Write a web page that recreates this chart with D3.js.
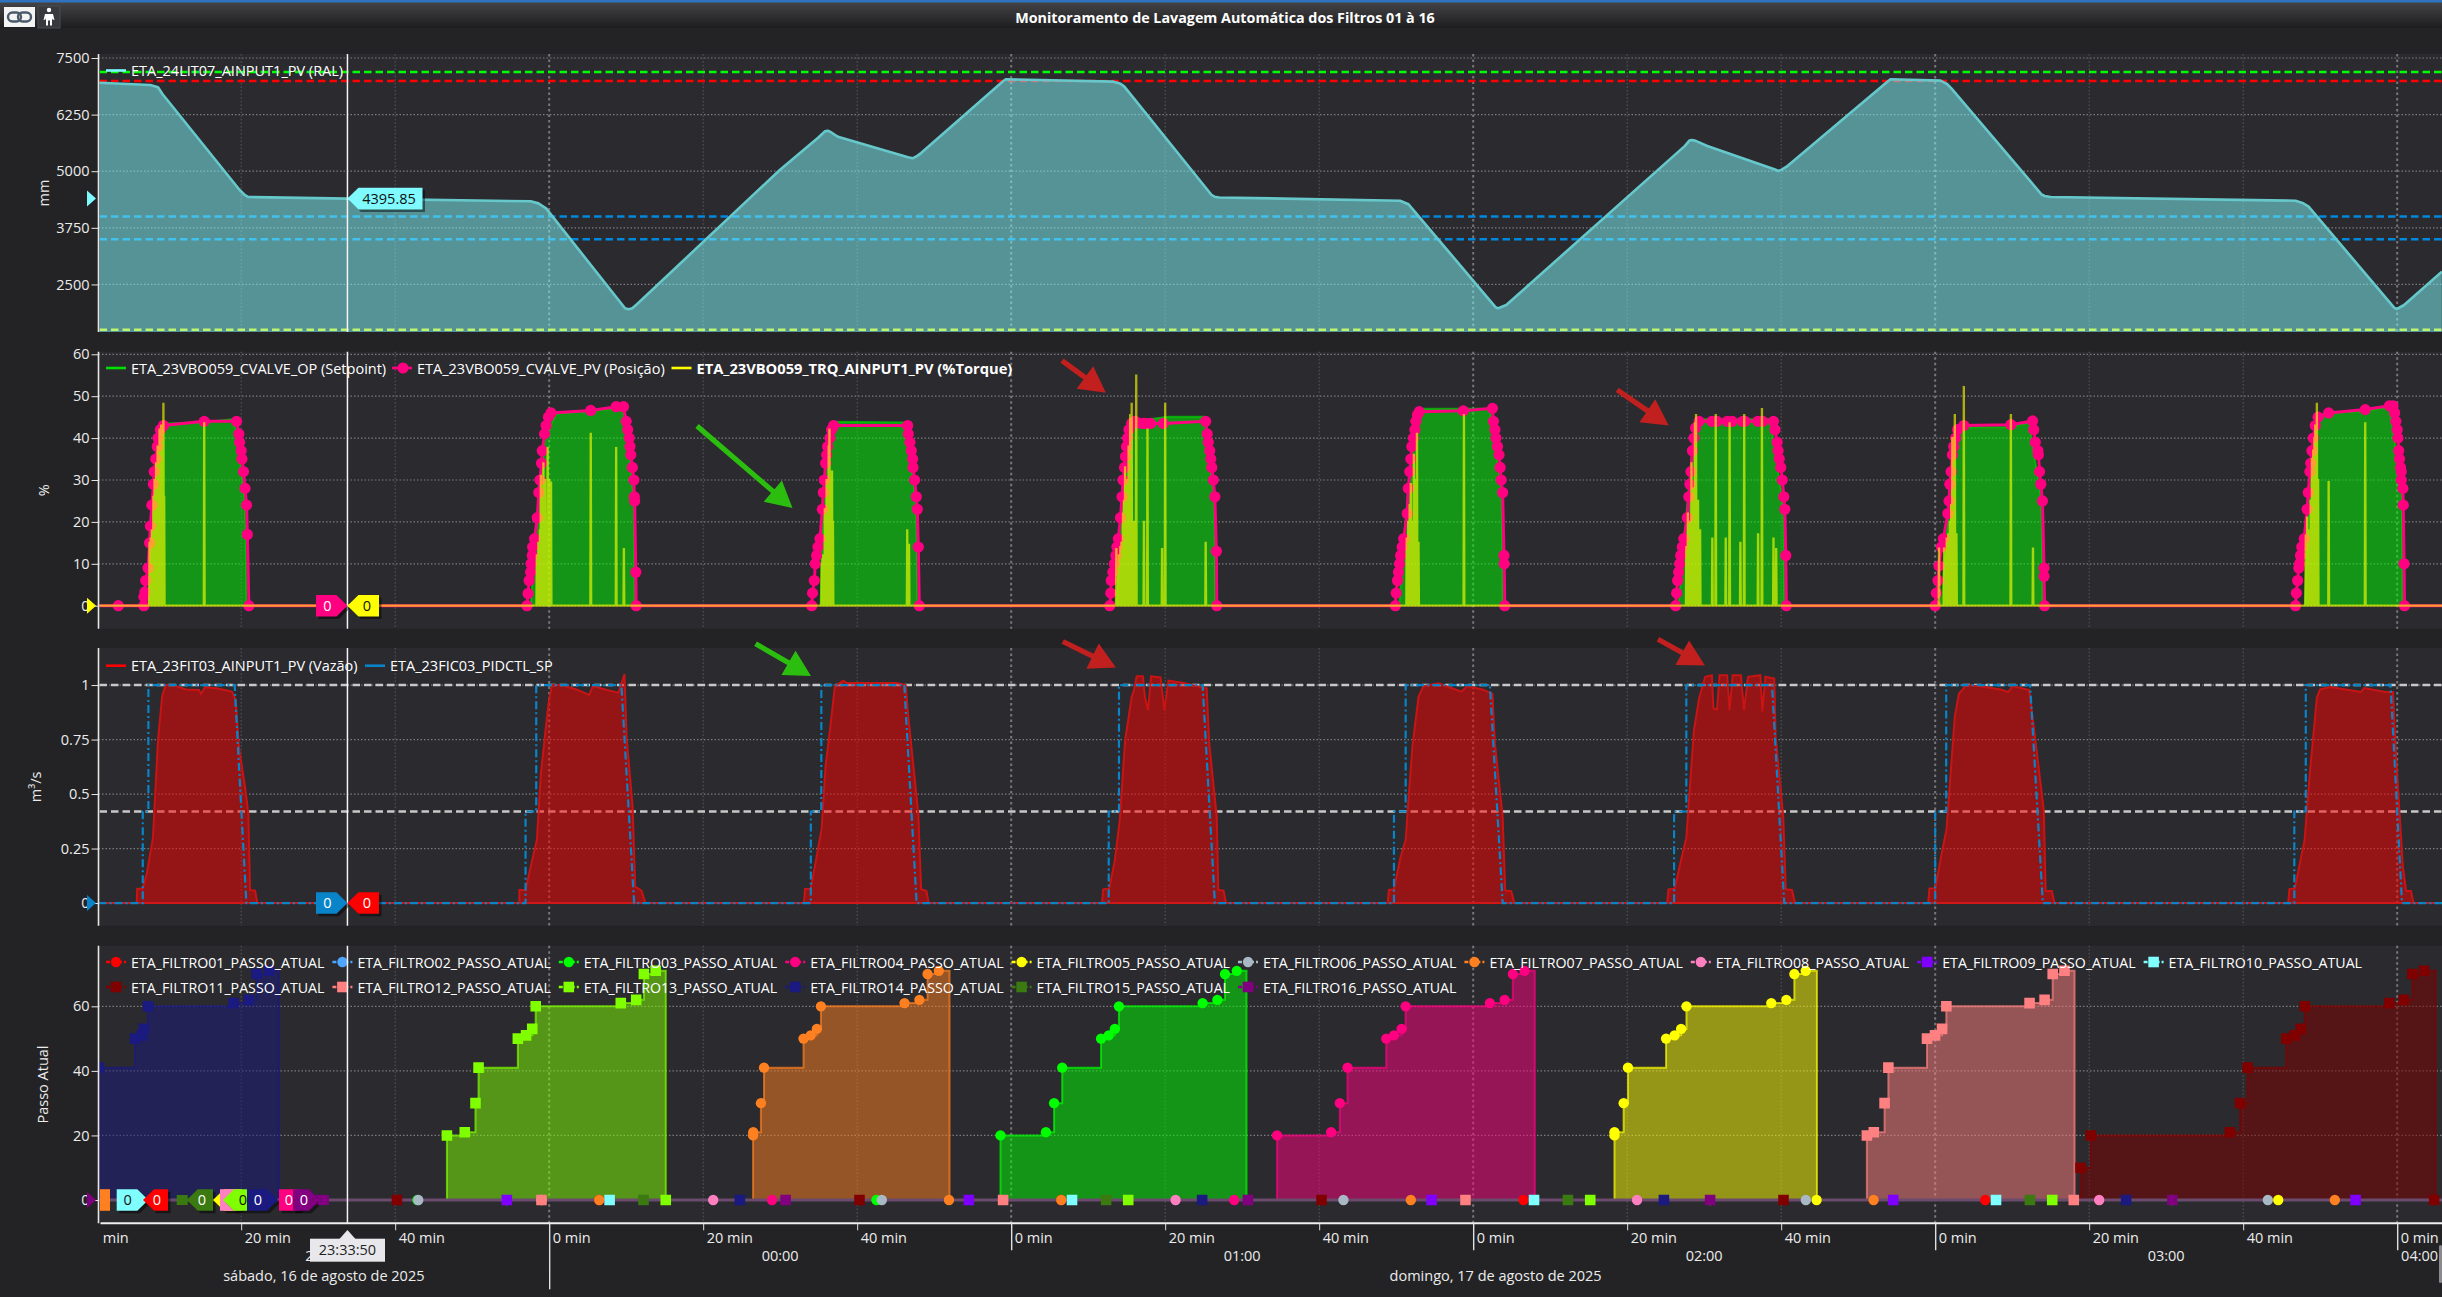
<!DOCTYPE html>
<html><head><meta charset="utf-8">
<script src="https://cdn.jsdelivr.net/npm/d3@7/dist/d3.min.js"></script>
<style>
html,body{margin:0;padding:0;background:#232325;overflow:hidden}
text{font-family:"Open Sans","Noto Sans",sans-serif;fill:#ececec}
</style></head><body><div id="c"></div>
<script>
// ---------- text ----------
const chartTitle="Monitoramento de Lavagem Automática dos Filtros 01 à 16";
const levelUnit="mm", valveUnit="%", flowUnit="m³/s", stepUnit="Passo Atual";
const levelTicks=[7500,6250,5000,3750,2500];
const valveTicks=[60,50,40,30,20,10,0];
const flowTicks=[1,0.75,0.5,0.25,0];
const stepTicks=[60,40,20,0];
const minuteTicks=[-60,-40,-20,0,20,40,60,80,100,120,140,160,180,200,220,240];
const hourLabels=[[-60,"23:00"],[0,"00:00"],[60,"01:00"],[120,"02:00"],[180,"03:00"],[240,"04:00"]];
const dayLabels=[[-1440,0,"sábado, 16 de agosto de 2025"],[0,1440,"domingo, 17 de agosto de 2025"]];
const cursorT=-26.2, cursorLabel="23:33:50", cursorLevel="4395.85";
// ---------- level (minutes since 00:00, mm) ----------
const levelT=[-58.5,-51.8,-50.8,-50.2,-40.2,-39.5,-39.05,-26.2,-2.4,-1.4,-0.4,9.85,10.3,10.8,11.5,29.95,35,35.8,36.2,36.7,37.5,46.6,47.2,47.8,48.3,58.9,59.3,73.3,74.2,74.7,86,86.4,87,110.5,111.6,112.6,122.9,123.2,123.5,124.3,147.5,148.1,148.4,148.9,150.4,159.2,159.6,160,160.7,173.9,174.2,180.7,181.5,182.1,193.8,194.2,195,226.8,227.7,228.5,239.6,239.9,240.2,240.9,245.8];
const levelV=[6955,6905,6853,6700,4585,4470,4430,4395.85,4336,4290,4180,1973,1950,1973,2080,5027,5750,5880,5895,5850,5760,5310,5285,5340,5400,6980,7029,6977,6930,6868,4480,4438,4420,4349,4270,4070,2000,1973,1990,2046,5560,5680,5690,5670,5557,5040,5005,5030,5100,6990,7029,7000,6930,6830,4490,4453,4430,4349,4300,4217,1990,1958,1980,2046,2782];
const levelLimits=[[7190,"#00ff00"],[6990,"#ff0000"],[4000,"#0088dd"],[3500,"#0088dd"]];
const levelLowLimit=1500;
// ---------- valve position PV per cycle ----------
const pv1T=[-58.5,-55.95,-52.64,-52.64,-52.5,-52.4,-52.1,-51.9,-51.8,-51.6,-51.4,-51.3,-51.1,-50.9,-50.8,-50.5,-50.1,-44.8,-40.6,-40.3,-40.2,-40,-39.9,-39.7,-39.5,-39.3,-39.2,-39];
const pv1V=[0,0,0,2.1,3.3,6,9,15,19,24,29,32,35,38,40,42,43,44,44,41,39,37,35,32,28,24,17,0];
const pv2T=[-2.88,-2.74,-2.6,-2.41,-2.35,-2.2,-2.15,-1.9,-1.55,-1.35,-1.2,-1,-0.9,-0.6,-0.4,-0.1,0.24,5.4,8.7,9.65,10,10.2,10.4,10.5,10.6,10.8,11,11.05,11.1,11.25,11.3];
const pv2V=[0,2.9,6,8,10,12,14,16,21,27,30,34,37,41,43,45,46,46.6,47.5,47.5,44,42,40,38,36,33,30,26,25,8,0];
const pv3T=[34.1,34.2,34.43,34.56,34.73,34.9,35.17,35.47,35.6,35.73,35.9,36.03,36.16,36.46,36.68,36.94,46.55,46.64,46.85,47.03,47.2,47.25,47.46,47.68,47.81,47.94,48.07];
const pv3V=[0,3,6,10,12,14,16,23,27,30,34,36,38,40,42,43,43,41,39,37,35,33,30,26,23,14,0];
const pv4T=[72.8,72.93,73,73.2,73.4,73.6,73.73,73.92,74.19,74.39,74.52,74.72,74.85,74.98,75.12,75.3,75.65,76.1,76.5,77.1,77.44,78.1,79.75,85.26,85.46,85.59,85.79,85.92,86.05,86.25,86.45,86.65,86.7];
const pv4V=[0,3,6,8,10,12,14,16,21,26,30,33,35.6,38,40,42,43.5,44,43.6,43.5,43.5,43.5,43.5,44,41,39,37,35,33,30,26,13,0];
const pv5T=[109.9,110,110.17,110.3,110.44,110.57,110.77,110.97,111.43,111.57,111.76,111.9,112.03,112.23,112.43,112.56,112.76,113,118.72,122.5,122.63,122.83,122.96,123.16,123.36,123.5,123.63,123.83,124,124.03,124.1];
const pv5V=[0,3,6,8,10,12,14,16,22,28,32,35,38,40,42,44,45.5,46.3,46.5,47.1,44,42,40,38,36,33,30,27,12,10,0];
const pv6T=[146.3,146.42,146.55,146.68,146.82,146.95,147.15,147.35,147.81,148,148.15,148.28,148.47,148.67,148.87,149.34,151,151.66,153,153.65,155,155.3,156.96,157.6,159,159.2,159.47,159.6,159.75,159.94,160.14,160.34,160.47,160.6,160.67];
const pv6V=[0,3,6,8,10,12,14,16,21,26,29,32,37,40,42.4,44,44,44,44,44,44,44,44,44,44,42,39,37,35,33,30,26,23,12,0];
const pv7T=[180,180.15,180.37,180.5,180.8,181.06,181.64,181.8,181.9,182.07,182.23,182.4,182.65,182.92,183.72,189.83,192.65,192.8,193,193.34,193.4,193.56,193.72,193.93,194.14,194.14,194.2];
const pv7V=[0,3,6,9.5,14,16,22,25,29,32,36,38,40,42,43,43.2,44.1,42,39,37,36,32,29,25,9,7,0];
const pv8T=[226.8,226.9,227.07,227.22,227.33,227.44,227.6,227.92,228.3,228.45,228.66,228.77,228.93,229.1,229.36,229.73,231.1,235.85,239,239.46,239.67,239.83,240,240.1,240.2,240.3,240.44,240.53,240.53,240.74,240.79,240.9,240.95,245.8];
const pv8V=[0,3,6,9,10,12,14,16,23,27,32,34,37,40,43,45,46,46.8,47.7,47.7,46,44,42,40,37,35,33,32,30,28,24,10,0,0];
// ---------- valve setpoint OP per cycle ----------
const op1T=[-52,-51.7,-51.2,-50.6,-49.6,-45,-41.2,-40.5,-39.5,-39.3], op1V=[0,20,32,41,43.5,43.8,44.5,41,24,0];
const op2T=[-2.41,-1.75,-0.6,0.9,8.6,9.6,10.2,11,11.1], op2V=[0,17,40,45.8,47,47,40,25,0];
const op3T=[35.25,35.5,36,36.5,37.3,46.4,47.7,47.8], op3V=[0,23,36,42,43.9,43.7,23,0];
const op4T=[73.66,74.3,75,75.8,80.4,85.05,86.4,86.5], op4V=[0,20,37,44,45.1,45.1,26,0];
const op5T=[110.37,111.2,112,112.8,113.55,122.17,123.7,123.85], op5V=[0,20,36,45,47,47,27,0];
const op6T=[146.68,147.6,148.6,150,158.6,160.3,160.4], op6V=[0,20,40,44.5,44.5,23,0];
const op7T=[180.8,181.6,182.6,184.25,189.6,192.2,193.8,193.95], op7V=[0,20,40,42.6,42.6,43.7,25,0];
const op8T=[228,228.6,229.4,230.5,235.85,239,240.6,240.7], op8V=[0,30,42,46,46.4,47.5,28,0];
// ---------- torque spikes ----------
const trqT=[-51.9,-51.75,-51.6,-51.4,-51.25,-51.05,-50.85,-50.6,-50.4,-50.1,-50,-44.8,
 -1.6,-1.4,-1.2,-1.08,-0.9,-0.75,-0.55,-0.2,0,0.24,5.4,8.7,9.7,
 35.4,35.5,35.6,35.8,36.03,36.12,36.3,36.4,36.6,36.73,36.85,46.5,46.73,
 73.66,74,74.18,74.32,74.52,74.65,74.79,75,75.25,75.45,75.65,75.9,76.24,77.24,77.7,79.6,80,85.26,
 111.37,111.57,111.75,111.9,112.1,112.3,112.5,112.7,112.9,118.8,
 147.68,147.88,148.15,148.35,148.54,148.8,148.94,149.2,149.47,151.06,151.5,152.8,153.3,154.7,155.2,157,157.5,159,159.35,
 180.5,181.16,181.5,181.7,181.9,182.08,182.23,182.4,182.55,182.76,183.72,189.83,192.7,
 228.13,228.3,228.44,228.56,228.77,228.93,229.1,229.25,229.36,229.57,229.73,231.1,235.85];
const trqV=[15,16,18,26,30,34,38,42,43,48.2,26,43.5,
 12,15,18,31,26,34,30,37.6,30,29.4,41,37.6,13.5,
 10,11,12,23,30,30,38,42,25,32,20,18,14.5,
 13.5,12,14,15,22,25,33,30,38,45.5,48.2,20,54.9,20,42,13.5,48.2,15,
 16,20,24,29,20,36,30,41,15,45.5,
 14,22,20,34,28,43.5,45.5,25,18,16,45.5,16,43.5,15,45.5,17,46.9,16,13.5,
 13.6,13.6,16,17,20,24,40,30,45.5,17,52.2,45.5,13.6,
 16.7,21,18,14,25,35,37,40,43,48.2,30,29.5,43.5];
// ---------- flow per cycle ----------
const fl1T=[-53.57,-53.5,-52.8,-52.25,-51.46,-50.8,-50.26,-49.8,-48.8,-47.2,-45.5,-45.2,-44.7,-43.2,-41.2,-40.7,-40.3,-39.5,-39.07,-38.85,-38.2,-37.9];
const fl1V=[0,0.065,0.065,0.136,0.3,0.75,0.95,1,1,0.98,0.977,0.96,0.99,0.985,0.97,0.93,0.717,0.534,0.41,0.06,0.057,0];
const fl2T=[-3.87,-3.87,-3.07,-2.4,-1.6,-1.08,-0.09,0.37,1.56,3.55,5.2,5.67,7.5,9,9.78,10.05,10.84,11.17,12,12.5];
const fl2V=[0,0.06,0.06,0.167,0.29,0.595,0.916,1,1,0.98,0.955,0.995,0.977,0.965,1.05,0.763,0.442,0.075,0.057,0];
const fl3T=[33.09,33.22,33.95,34.5,35.38,35.9,36.55,37.1,38.2,38.6,39.5,42.1,45.1,46.3,46.64,47.3,47.94,48.3,49,49.28];
const fl3V=[0,0.064,0.064,0.167,0.34,0.63,0.82,0.995,1.02,1.01,1.01,1.01,1.01,1,0.857,0.63,0.41,0.064,0.055,0];
const fl4T=[71.8,71.94,72.73,73.46,74.1,74.8,75.65,75.9,76.3,77.1,77.37,77.77,78.16,79.4,79.9,80.42,82.4,84.7,85.39,85.72,86.7,86.9,87.58,87.9];
const fl4V=[0,0.063,0.066,0.197,0.38,0.748,0.946,0.97,1.04,1.04,0.946,0.885,1.04,1.035,0.885,1.02,1.01,0.99,0.985,0.732,0.396,0.06,0.057,0];
const fl5T=[108.9,109.05,109.7,110.57,111.23,112.1,112.9,113.55,115.54,116.86,118.5,119.2,121.2,122.5,122.83,123.83,124.16,124.95,125.35];
const fl5V=[0,0.06,0.063,0.21,0.29,0.717,0.946,0.995,1.008,0.99,0.97,0.995,0.98,0.96,0.73,0.396,0.057,0.054,0];
const fl6T=[145.2,145.36,146.16,147,147.68,148.67,149.34,150.13,151,151.2,151.66,152,152.98,153.3,153.7,154.77,155.17,155.7,157.3,157.55,157.95,159.1,159.28,160.27,160.6,161.4,161.8];
const fl6V=[0,0.063,0.066,0.197,0.3,0.793,0.939,1.038,1.045,0.893,0.888,1.045,1.045,0.885,1.045,1.045,0.885,1.038,1.045,0.878,1.038,1.03,0.763,0.396,0.063,0.06,0];
const fl7T=[179.09,179.25,180,180.8,181.48,182.55,183.08,183.72,183.88,185.84,188.5,189.46,190.1,192.2,192.76,194.1,194.35,195.15,195.5];
const fl7V=[0,0.067,0.067,0.22,0.34,0.857,0.96,0.986,1,0.995,0.98,0.968,0.995,0.977,0.822,0.426,0.055,0.055,0];
const fl8T=[225.84,226,226.7,227.97,228.66,229.57,229.99,231.3,233.7,235.3,235.7,238.5,239.46,239.83,240.74,241.16,241.8,242.1];
const fl8V=[0,0.064,0.067,0.288,0.6,0.943,0.98,0.991,0.977,0.968,0.986,0.968,0.968,0.684,0.167,0.055,0.055,0];
// ---------- flow setpoint: first step, second step, ramp start, ramp end ----------
const spT=[-52.78,-52.05,-40.85,-39.33,-3.07,-1.68,9.38,11.03,33.98,35.34,46.12,47.72,72.67,74,84.86,86.45,109.71,111.23,122.17,123.83,146.09,147.68,158.81,160.4,180,181.43,192.33,193.98,226.64,228.13,239.14,240.63];
const spLevels=[0.42,1];
const flowLimits=[1,0.42];
// ---------- filter steps ----------
const stepV=[20,21,30,41,50,51,53,60,61,62,70,71];
const f13T=[-13.28,-10.96,-9.57,-9.17,-4.07,-3,-2.2,-1.75,9.3,11.3,12.3,13.83,15.14];
const f07T=[26.48,26.5,27.5,27.9,33.03,33.96,34.76,35.29,46.15,48.08,49.14,50.6,51.99];
const f03T=[58.61,64.51,65.57,66.63,71.67,72.66,73.46,73.99,84.86,86.78,87.77,89.3,90.56];
const f04T=[94.53,101.55,102.68,103.68,108.71,109.71,110.7,111.23,122.17,124.09,125.15,126.67,128];
const f05T=[138.35,138.35,139.54,140.1,145.05,146.16,147,147.7,158.71,160.67,161.71,163.18,164.64];
const f12T=[171.13,172.03,173.43,173.92,178.94,179.98,180.89,181.45,192.26,194.21,195.26,196.79,198.1];
const f14T=[-58.5,-53.77,-52.9,-52.64,-52.1,-41,-39,-38,-36.4,-35.1], f14V=[41,50,51,53,60,61,62,70,71];
const f11T=[198.88,200.2,218.27,219.6,220.57,225.6,226.7,227.47,228,238.98,240.86,241.98,243.5,245], f11V=[10,20,21,30,41,50,51,53,60,61,62,70,71];
// zero-level markers of every filter
const z01=[6.5,66.5,126.54,186.5], z03=[-17.1,42.5,150.77,210.8], z04=[28.94,88.96], z05=[-1,164.6,224.55],
 z06=[-17,-5.5,43.2,103.15,163.2,223.2], z07=[6.5,51.92,66.5,111.9,172,231.9], z08=[21.3,81.35,141.28,201.3],
 z09=[-5.5,54.5,114.6,174.55,234.6], z10=[7.85,67.9,127.9,187.9], z11=[-19.77,40.3,100.3,160.3,244.8],
 z12=[-1,58.95,119,198], z13=[15.14,75.2,135.2,195.2], z14=[24.76,84.8,144.77,204.8],
 z15=[12.25,72.33,132.3,192.3], z16=[-30.2,30.7,90.75,150.77,210.8];
const filterNames=d3.range(1,17).map(i=>"ETA_FILTRO"+String(i).padStart(2,"0")+"_PASSO_ATUAL");
const filterColors=["#ff0000","#4da6ff","#00ff00","#ff0080","#ffff00","#a8b8c4","#ff8020","#ff80c0","#8000ff","#80ffff","#800000","#ff8080","#80ff00","#1a1a80","#3a7a10","#800080"];
const filterSquare=[0,0,0,0,0,0,0,0,1,1,1,1,1,1,1,1];
const legendLevel=[["ETA_24LIT07_AINPUT1_PV (RAL)","#7ffbff"]];
const legendValve=[["ETA_23VBO059_CVALVE_OP (Setpoint)","#00e000"],["ETA_23VBO059_CVALVE_PV (Posição)","#ff0080"],["ETA_23VBO059_TRQ_AINPUT1_PV (%Torque)","#ffff00"]];
const legendFlow=[["ETA_23FIT03_AINPUT1_PV (Vazão)","#ff0000"],["ETA_23FIC03_PIDCTL_SP","#0a84c8"]];

// ---------- layout ----------
const W=2442,H=1297,L=98.5;
const svg=d3.select("#c").append("svg").attr("width",W).attr("height",H).style("display","block");
const defs=svg.append("defs");
const x=d3.scaleLinear().domain([-58.53,245.82]).range([L,W]);
const panels=[
 {top:54,bottom:332,y:d3.scaleLinear().domain([1450,7588]).range([332,54]),ticks:levelTicks,unit:levelUnit,ux:49,fmt:d=>d},
 {top:351.7,bottom:628.7,y:d3.scaleLinear().domain([-5.49,60.62]).range([628.7,351.7]),ticks:valveTicks,unit:valveUnit,ux:49,fmt:d=>d},
 {top:648,bottom:925.7,y:d3.scaleLinear().domain([-0.104,1.17]).range([925.7,648]),ticks:flowTicks,unit:flowUnit,ux:41,fmt:d=>d},
 {top:945.7,bottom:1223.3,y:d3.scaleLinear().domain([-7.22,78.78]).range([1223.3,945.7]),ticks:stepTicks,unit:stepUnit,ux:48,fmt:d=>d}
];
const FS=14.5;
// title bar
const grad=defs.append("linearGradient").attr("id","tb").attr("x1",0).attr("x2",0).attr("y1",0).attr("y2",1);
grad.append("stop").attr("offset",0).attr("stop-color","#47474a");
grad.append("stop").attr("offset",1).attr("stop-color","#1d1d1f");
svg.append("rect").attr("width",W).attr("height",28).attr("fill","url(#tb)");
svg.append("rect").attr("width",W).attr("height",2.5).attr("fill","#2f72c0");
svg.append("text").attr("x",1225).attr("y",22.5).attr("text-anchor","middle").attr("font-weight",700).attr("font-size",14.3).style("fill","#fff").text(chartTitle);
svg.append("rect").attr("x",4).attr("y",7).attr("width",31).attr("height",20).attr("fill","#f4f4f4");
svg.append("rect").attr("x",8).attr("y",12.5).attr("width",13).attr("height",9).attr("rx",4.5).attr("fill","none").attr("stroke","#4a5a6a").attr("stroke-width",2.4);
svg.append("rect").attr("x",18).attr("y",12.5).attr("width",13).attr("height",9).attr("rx",4.5).attr("fill","none").attr("stroke","#4a5a6a").attr("stroke-width",2.4);
svg.append("rect").attr("x",38).attr("y",6).attr("width",22).attr("height",22).attr("fill","#37393d").attr("stroke","#4a4c50");
svg.append("circle").attr("cx",49).attr("cy",10).attr("r",2.2).attr("fill","#fff");
svg.append("path").attr("d","M45 14h8l1.5 6-2-.5-.5-1.5v7.5h-2v-5h-2v5h-2V18l-.5 1.5-2 .5z").attr("fill","#fff");

// panels and grid
panels.forEach((p,i)=>{
 p.g=svg.append("g");
 p.g.append("rect").attr("x",L).attr("y",p.top).attr("width",W-L).attr("height",p.bottom-p.top).attr("fill","#2a2a2f");
 defs.append("clipPath").attr("id","cp"+i).append("rect").attr("x",L+1).attr("y",p.top).attr("width",W-L).attr("height",p.bottom-p.top);
 const grid=p.g.append("g");
 grid.selectAll("line.h").data(p.ticks).join("line").attr("x1",L).attr("x2",W).attr("y1",d=>p.y(d)).attr("y2",d=>p.y(d))
  .attr("stroke","#7c7c80").attr("stroke-width",1.2).attr("stroke-dasharray","1.5 2");
 grid.selectAll("line.v").data(minuteTicks.filter(d=>d>-58)).join("line").attr("x1",d=>x(d)).attr("x2",d=>x(d)).attr("y1",p.top).attr("y2",p.bottom)
  .attr("stroke",d=>d%60===0?"#77777b":"#58585c").attr("stroke-width",d=>d%60===0?2:1).attr("stroke-dasharray",d=>d%60===0?"2.5 3":"1.6 2");
 p.marks=p.g.append("g").attr("clip-path",`url(#cp${i})`);
});
const pts=(T,V)=>T.map((t,i)=>[t,V[i]]);
const dash=(g,p,v,c,w)=>g.append("line").attr("x1",L+1).attr("x2",W).attr("y1",p.y(v)).attr("y2",p.y(v)).attr("stroke",c).attr("stroke-width",w||2.5).attr("stroke-dasharray","7.5 4");

// ---- panel 1 ----
{const p=panels[0],g=p.marks;
 levelLimits.forEach(d=>dash(g,p,d[0],d[1]));
 const data=pts(levelT,levelV);
 g.append("path").attr("d",d3.area().x(d=>x(d[0])).y0(p.bottom).y1(d=>p.y(d[1]))(data)).attr("fill","#82fcff").attr("fill-opacity",.5);
 g.append("path").attr("d",d3.line().x(d=>x(d[0])).y(d=>p.y(d[1]))(data)).attr("fill","none").attr("stroke","#66c8ca").attr("stroke-width",2.6).attr("stroke-linejoin","round");
 dash(g,p,levelLowLimit,"#bdf56f");
}
// ---- panel 2 ----
{const p=panels[1],g=p.marks;
 const ops=[[op1T,op1V],[op2T,op2V],[op3T,op3V],[op4T,op4V],[op5T,op5V],[op6T,op6V],[op7T,op7V],[op8T,op8V]];
 ops.forEach(o=>{const d=pts(o[0],o[1]);
  g.append("path").attr("d",d3.area().x(e=>x(e[0])).y0(p.y(0)).y1(e=>p.y(e[1]))(d)).attr("fill","#00ff00").attr("fill-opacity",.5);
  g.append("path").attr("d",d3.line().x(e=>x(e[0])).y(e=>p.y(e[1]))(d)).attr("fill","none").attr("stroke","#00d000").attr("stroke-opacity",.7).attr("stroke-width",2);
 });
 const pv=[[pv1T,pv1V],[pv2T,pv2V],[pv3T,pv3V],[pv4T,pv4V],[pv5T,pv5V],[pv6T,pv6V],[pv7T,pv7V],[pv8T,pv8V]].flatMap(o=>pts(o[0],o[1]));
 g.append("path").attr("d",d3.line().x(e=>x(e[0])).y(e=>p.y(e[1]))(pv)).attr("fill","none").attr("stroke","#ff0080").attr("stroke-width",3);
 g.selectAll("circle.pv").data(pv.filter(d=>d[0]>-58&&d[0]<245)).join("circle").attr("cx",d=>x(d[0])).attr("cy",d=>p.y(d[1])).attr("r",5.6).attr("fill","#ff0080");
 const trq=[[-58.53,0]];
 trqT.forEach((t,i)=>{trq.push([t-0.06,0],[t-0.01,trqV[i]],[t+0.01,trqV[i]],[t+0.06,0]);});
 trq.push([245.82,0]);
 g.append("path").attr("d",d3.line().x(e=>x(e[0])).y(e=>p.y(e[1]))(trq)).attr("fill","none").attr("stroke","#ffff00").attr("stroke-opacity",.62).attr("stroke-width",2.2);
}
// ---- panel 3 ----
{const p=panels[2],g=p.marks;
 flowLimits.forEach(v=>dash(g,p,v,"#c8c8c8"));
 const fl=[[fl1T,fl1V],[fl2T,fl2V],[fl3T,fl3V],[fl4T,fl4V],[fl5T,fl5V],[fl6T,fl6V],[fl7T,fl7V],[fl8T,fl8V]];
 fl.forEach(o=>{const d=pts(o[0],o[1]);
  g.append("path").attr("d",d3.area().x(e=>x(e[0])).y0(p.y(0)).y1(e=>p.y(e[1]))(d)).attr("fill","#ff0000").attr("fill-opacity",.5);
 });
 g.append("line").attr("x1",L).attr("x2",W).attr("y1",p.y(0)).attr("y2",p.y(0)).attr("stroke","#d01818").attr("stroke-width",2);
 fl.forEach(o=>{const d=pts(o[0],o[1]);
  g.append("path").attr("d",d3.line().x(e=>x(e[0])).y(e=>p.y(e[1]))(d)).attr("fill","none").attr("stroke","#c81414").attr("stroke-width",2);
 });
 const sp=[[-58.53,0]];
 for(let i=0;i<spT.length;i+=4){
  sp.push([spT[i],0],[spT[i],spLevels[0]],[spT[i+1],spLevels[0]],[spT[i+1],spLevels[1]],[spT[i+2],spLevels[1]],[spT[i+3],0]);
 }
 sp.push([245.82,0]);
 g.append("path").attr("d",d3.line().x(e=>x(e[0])).y(e=>p.y(e[1]))(sp)).attr("fill","none").attr("stroke","#0a84c8").attr("stroke-width",2.2).attr("stroke-dasharray","8 3 2 3");
}
// ---- panel 4 ----
const symCircle=d3.symbol().type(d3.symbolCircle).size(84)(), symSquare=d3.symbol().type(d3.symbolSquare).size(112)();
{const p=panels[3],g=p.marks;
 const runs=[[12,f13T,stepV],[6,f07T,stepV],[2,f03T,stepV],[3,f04T,stepV],[4,f05T,stepV],[11,f12T,stepV],[13,f14T,f14V],[10,f11T,f11V]];
 const area=d3.area().curve(d3.curveStepAfter).x(e=>x(e[0])).y0(p.y(0)).y1(e=>p.y(e[1]));
 const line=d3.line().curve(d3.curveStepAfter).x(e=>x(e[0])).y(e=>p.y(e[1]));
 runs.forEach(r=>{
  const c=filterColors[r[0]];
  const d=r[2].map((v,i)=>[r[1][i],v]);
  const end=r[1][r[1].length-1];
  const full=[[r[1][0],0],...d,[end,0]];
  g.append("path").attr("d",area(full)).attr("fill",c).attr("fill-opacity",.5);
  g.append("path").attr("d",line(full)).attr("fill","none").attr("stroke",c).attr("stroke-opacity",.7).attr("stroke-width",2);
 });
 g.append("line").attr("x1",L).attr("x2",W).attr("y1",p.y(0)).attr("y2",p.y(0)).attr("stroke","#6b4a6e").attr("stroke-width",3);
 const zeros=[z01,null,z03,z04,z05,z06,z07,z08,z09,z10,z11,z12,z13,z14,z15,z16];
 zeros.forEach((z,i)=>{ if(!z) return;
  g.selectAll(null).data(z).join("path").attr("d",filterSquare[i]?symSquare:symCircle).attr("fill",filterColors[i])
   .attr("transform",t=>`translate(${x(t)},${p.y(0)})`);
 });
 runs.forEach(r=>{
  const d=r[2].map((v,i)=>[r[1][i],v]);
  g.selectAll(null).data(d).join("path").attr("d",filterSquare[r[0]]?symSquare:symCircle).attr("fill",filterColors[r[0]])
   .attr("transform",e=>`translate(${x(e[0])},${p.y(e[1])})`);
 });
}
// axes
panels.forEach(p=>{
 const ax=svg.append("g").attr("transform",`translate(${L},0)`).call(d3.axisLeft(p.y).tickValues(p.ticks).tickFormat(p.fmt).tickSize(7).tickPadding(2));
 ax.select(".domain").attr("d",`M0,${p.top}V${p.bottom}`).attr("stroke","#e6e6e6").attr("stroke-width",1.6);
 ax.selectAll(".tick line").attr("stroke","#e6e6e6");
 ax.selectAll("text").attr("font-size",FS).style("font-family",'"Open Sans",sans-serif').style("fill","#ececec");
 svg.append("text").attr("transform",`translate(${p.ux},${(p.top+p.bottom)/2}) rotate(-90)`).attr("text-anchor","middle").attr("font-size",FS).text(p.unit);
});
// bottom axis
defs.append("clipPath").attr("id","cpx").append("rect").attr("x",L+1).attr("y",1220).attr("width",W-L).attr("height",77);
const xg=svg.append("g").attr("clip-path","url(#cpx)");
const xa=xg.append("g").attr("transform",`translate(0,${panels[3].bottom})`).call(d3.axisBottom(x).tickValues(minuteTicks).tickFormat(d=>((d%60+60)%60)+" min").tickSize(7));
xa.select(".domain").attr("stroke","#f0f0f0").attr("stroke-width",2).attr("d",`M${L+2},0H${W}`);
xa.selectAll(".tick line").attr("stroke","#e0e0e0").attr("stroke-width",d=>d%60===0?1.4:1).attr("y2",d=>d===0?66:(d%60===0?27:7));
xa.selectAll(".tick text").attr("text-anchor","start").attr("x",3).attr("y",8).attr("dy","0.8em").attr("font-size",FS).style("font-family",'"Open Sans",sans-serif').style("fill","#ececec");
const vis=(a,b)=>(Math.max(x(a),L)+Math.min(x(b),W))/2;
xg.selectAll("text.hr").data(hourLabels).join("text").attr("x",d=>vis(d[0],d[0]+60)).attr("y",1261).attr("text-anchor","middle").attr("font-size",FS).text(d=>d[1]);
svg.selectAll("text.day").data(dayLabels).join("text").attr("x",d=>vis(d[0],d[1])).attr("y",1281).attr("text-anchor","middle").attr("font-size",FS).text(d=>d[2]);
svg.append("rect").attr("x",2439).attr("y",1245).attr("width",3).attr("height",38).attr("rx",1.5).attr("fill","#8a8a8e");

// legends
function legendRow(items,ly,xs,boldLast){
 items.forEach((it,i)=>{
  const tx=xs[i], bold=boldLast&&i===items.length-1;
  svg.append("line").attr("x1",tx-25).attr("x2",tx-5).attr("y1",ly).attr("y2",ly).attr("stroke",it[1]).attr("stroke-width",2.6);
  svg.append("text").attr("x",tx).attr("y",ly+5.5).attr("font-size",bold?14.7:FS).attr("font-weight",bold?700:400).style("fill","#fff").text(it[0]);
 });
}
legendRow(legendLevel,70.5,[131]);
legendRow(legendValve,368,[131,417,696.5],true);
svg.append("circle").attr("cx",403).attr("cy",368).attr("r",5.6).attr("fill","#ff0080");
legendRow(legendFlow,665.7,[131,390]);
const colX=d3.range(10).map(i=>131+i*226.4);
filterNames.forEach((n,i)=>{
 const ly=i<10?962:987, tx=colX[i%10];
 const c=filterColors[i];
 svg.append("line").attr("x1",tx-25).attr("x2",tx-5).attr("y1",ly).attr("y2",ly).attr("stroke",c).attr("stroke-width",2.4).attr("stroke-dasharray","4 2");
 svg.append("path").attr("d",filterSquare[i]?symSquare:symCircle).attr("fill",c).attr("transform",`translate(${tx-15},${ly})`);
 svg.append("text").attr("x",tx).attr("y",ly+5.5).attr("font-size",14.2).style("fill","#fff").text(n);
});

// annotation arrows (given in chart units)
const arrowGreen="#2cbe0e", arrowRed="#c21f1f";
const arrows=[[1,19.2,42.9,31.6,23.3,arrowGreen],[2,26.8,1.19,34,1.042,arrowGreen],[1,66.6,58.5,72.3,50.8,arrowRed],[1,138.7,51.5,145.4,43,arrowRed],[2,66.7,1.2,73.6,1.08,arrowRed],[2,144,1.21,150.1,1.09,arrowRed]];
arrows.forEach(a=>{
 const p=panels[a[0]], x0=x(a[1]),y0=p.y(a[2]),x1=x(a[3]),y1=p.y(a[4]);
 const dx=x1-x0,dy=y1-y0,len=Math.hypot(dx,dy),ux=dx/len,uy=dy/len,nx=-uy,ny=ux;
 const hl=26,hw=14,sw=2.6,bx=x1-ux*hl,by=y1-uy*hl;
 const poly=[[x0+nx*sw,y0+ny*sw],[bx+nx*sw,by+ny*sw],[bx+nx*hw,by+ny*hw],[x1,y1],[bx-nx*hw,by-ny*hw],[bx-nx*sw,by-ny*sw],[x0-nx*sw,y0-ny*sw]];
 svg.append("polygon").attr("points",poly.map(q=>q.join(",")).join(" ")).attr("fill",a[5]);
});

// cursor
const cx=x(cursorT);
panels.forEach(p=>svg.append("line").attr("x1",cx).attr("x2",cx).attr("y1",p.top).attr("y2",p.bottom).attr("stroke","#f4f4f4").attr("stroke-width",1.5));
function tag(cy,tail,tip,fill,label,lx,tc){
 const d=tip>tail?1:-1, neck=tip-d*11, h=10.8;
 const pointsStr=[[tail,cy-h],[neck,cy-h],[tip,cy],[neck,cy+h],[tail,cy+h]].map(q=>q.join(",")).join(" ");
 svg.append("polygon").attr("points",pointsStr).attr("fill","#000").attr("fill-opacity",.45).attr("transform","translate(2.5,2.5)");
 svg.append("polygon").attr("points",pointsStr).attr("fill",fill);
 if(label!=null) svg.append("text").attr("x",lx).attr("y",cy+5.2).attr("text-anchor","middle").attr("font-size",FS).style("fill",tc).text(label);
}
// axis pointer triangles
const tri=(cy,c)=>svg.append("path").attr("d",`M87 ${cy-8}L96 ${cy}L87 ${cy+8}Z`).attr("fill",c);
tri(panels[0].y(4395.85),"#7ffbff"); tri(panels[1].y(0),"#ffff00"); tri(panels[2].y(0),"#0a84c8"); tri(panels[3].y(0),"#800080");
tag(panels[0].y(4395.85),422.5,cx,"#7ffbff",cursorLevel,389,"#111");
tag(panels[1].y(0),316,cx,"#ff0080","0",327.5,"#fff");
tag(panels[1].y(0),379,cx,"#ffff00","0",367,"#111");
tag(panels[2].y(0),316,cx,"#0a84c8","0",327.5,"#fff");
tag(panels[2].y(0),379,cx,"#ff0000","0",367,"#fff");
// tags of the filter panel, crowded to the left
const y0=panels[3].y(0);
svg.append("rect").attr("x",100).attr("y",y0-10.8).attr("width",10).attr("height",21.6).attr("fill","#ff8020");
tag(y0,116.7,148.3,"#80ffff","0",127.7,"#111");
tag(y0,168,143,"#ff0000","0",157,"#fff");
svg.append("rect").attr("x",176.7).attr("y",y0-5).attr("width",11).attr("height",10).attr("fill","#3a7a10");
tag(y0,213,186.7,"#3a7a10","0",202,"#fff");
tag(y0,240,213,"#ffff00",null);
svg.append("rect").attr("x",220).attr("y",y0-10.8).attr("width",22).attr("height",21.6).attr("fill","#ff80c0");
tag(y0,247,223,"#80ff00","0",243,"#111");
tag(y0,247,278,"#1a1a80","0",258,"#fff");
tag(y0,279,310,"#ff0080","0",289,"#fff");
tag(y0,293,320,"#800080","0",304,"#fff");
svg.append("rect").attr("x",318).attr("y",y0-5).attr("width",11).attr("height",10).attr("fill","#800080");
// time tooltip
svg.append("path").attr("d",`M${cx-8} 1239L${cx} 1230L${cx+8} 1239Z`).attr("fill","#e8e8ec");
svg.append("rect").attr("x",310).attr("y",1238.7).attr("width",75).attr("height",23).attr("fill","#e8e8ec");
svg.append("text").attr("x",cx).attr("y",1255).attr("text-anchor","middle").attr("font-size",FS).style("fill","#222").text(cursorLabel);
</script></body></html>
